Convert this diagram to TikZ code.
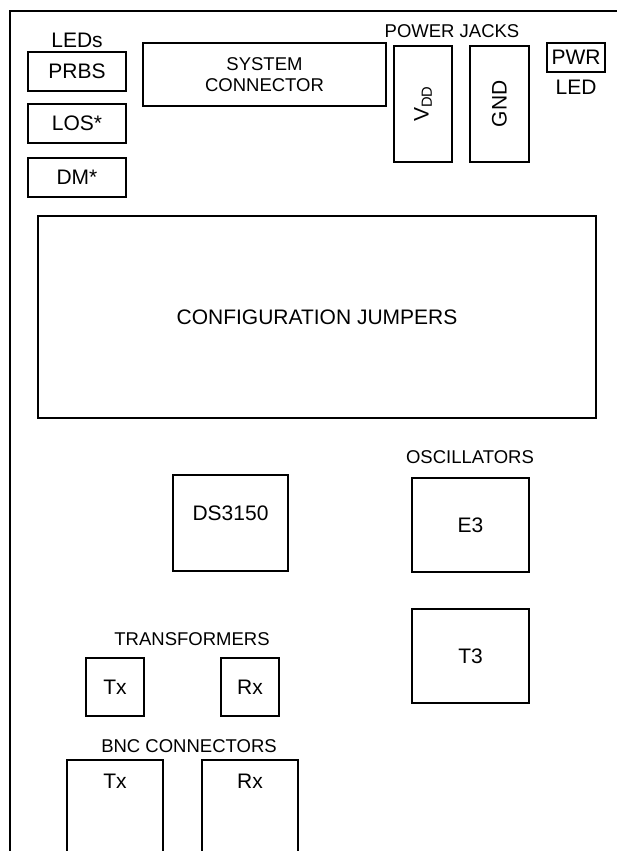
\documentclass[tikz,border=0pt]{standalone}
\usepackage{fontspec}
\setmainfont{Liberation Sans}
\usepackage{xcolor}
\usepackage{tikz}
\usetikzlibrary{positioning}
\definecolor{BoardInk}{RGB}{0, 0, 0}
\tikzset{
    part/.style={rectangle, draw=BoardInk, line width=1.6pt, inner sep=0pt, align=center,
        font=\fontsize{21}{24}\selectfont},
    partlbl/.style={inner sep=0pt, text=BoardInk, font=\fontsize{18.5}{21}\selectfont},
    bigtxt/.style={inner sep=0pt, text=BoardInk, font=\fontsize{21}{24}\selectfont}
}

\begin{document}
\begin{tikzpicture}[x=1pt, y=-1pt]
    \useasboundingbox (0,0) rectangle (617,851);
    \clip (0,0) rectangle (617,851);
    % board outline
    \draw[BoardInk, line width=2pt] (10,900) -- (10,11) -- (700,11);

    % LEDs
    \node[bigtxt] (ledslbl) at (77,40) {LEDs};
    \node[part, minimum width=98pt, minimum height=39pt] (prbs) at (77,71.5) {PRBS};
    \node[part, minimum width=98pt, minimum height=39pt] (los) at (77,123.5) {LOS*};
    \node[part, minimum width=98pt, minimum height=39pt] (dm) at (77,177.5) {DM*};

    % system connector and power
    \node[part, minimum width=243pt, minimum height=63pt, font=\fontsize{18.5}{20.5}\selectfont]
        (sysconn) at (264.5,74.5) {SYSTEM\\CONNECTOR};
    \node[partlbl] (pwrjacks) at (452,31) {POWER JACKS};
    \node[part, minimum width=58pt, minimum height=116pt] (vdd) at (423,104) {\rotatebox{90}{V\textsubscript{DD}}};
    \node[part, minimum width=59pt, minimum height=116pt] (gnd) at (499.5,104) {\rotatebox{90}{GND}};
    \node[part, minimum width=58pt, minimum height=29pt] (pwr) at (576,57.5) {PWR};
    \node[bigtxt] (pwrled) at (576,87) {LED};

    % jumpers
    \node[part, minimum width=558pt, minimum height=202pt] (jumpers) at (317,317) {CONFIGURATION JUMPERS};

    % framer and oscillators
    \node[part, minimum width=115pt, minimum height=96pt] (ds3150) at (230.5,523) {};
    \node[bigtxt] (ds3150txt) at ([yshift=10pt]ds3150.center) {DS3150};
    \node[partlbl] (osclbl) at (470,457) {OSCILLATORS};
    \node[part, minimum width=117pt, minimum height=94pt] (e3) at (470.5,525) {E3};
    \node[part, minimum width=117pt, minimum height=94pt] (t3) at (470.5,656) {T3};

    % transformers
    \node[partlbl] (xfmrlbl) at (192,639) {TRANSFORMERS};
    \node[part, minimum width=58pt, minimum height=58pt] (xfmrtx) at (115,687) {Tx};
    \node[part, minimum width=58pt, minimum height=58pt] (xfmrrx) at (250,687) {Rx};

    % BNC connectors
    \node[partlbl] (bnclbl) at (189,746) {BNC CONNECTORS};
    \node[part, minimum width=96pt, minimum height=140pt] (bnctx) at (115,830) {};
    \node[part, minimum width=96pt, minimum height=140pt] (bncrx) at (250,830) {};
    \node[bigtxt] (bnctxtxt) at ([yshift=-22pt]bnctx.north) {Tx};
    \node[bigtxt] (bncrxtxt) at ([yshift=-22pt]bncrx.north) {Rx};
\end{tikzpicture}
\end{document}
